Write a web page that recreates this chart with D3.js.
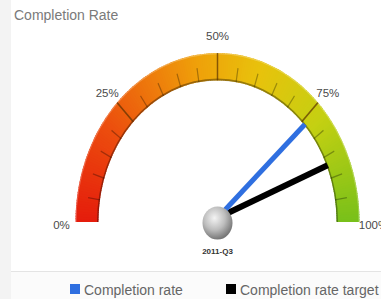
<!DOCTYPE html>
<html>
<head>
<meta charset="utf-8">
<script src="https://cdn.jsdelivr.net/npm/d3@7"></script>
<style>
  body { margin: 0; background: #fff; }
  svg { display: block; font-family: "Liberation Sans", Arial, sans-serif; }
</style>
</head>
<body>
<div id="container"></div>
<script>
/* DATA */
const period = "2011-Q3";
const seriesNames = ["Completion rate", "Completion rate target"];
const seriesValues = [76, 87];
const seriesColors = ["#2f6fe0", "#000000"];
const tickLabels = [0, 25, 50, 75, 100];
const minorStep = 5;
const bandStops = [0, 20, 45, 60, 78, 100];
const bandColors = ["#e51c0c", "#ec4e0e", "#efa00a", "#e8c20c", "#c4d012", "#78c01a"];

/* CONSTANTS */
const width = 381, height = 299;
const cx = 217.5, cy = 222, sy = 1.19;
const rOuter = 142, rInner = 119;

const svg = d3.select("#container").append("svg")
  .attr("width", width).attr("height", height);

// panel background
svg.append("rect").attr("width", width).attr("height", height).attr("fill", "#f3f3f3");
svg.append("rect").attr("x", 11).attr("width", width - 11).attr("height", 271).attr("fill", "#fff");
svg.append("rect").attr("x", 11).attr("y", 272).attr("width", width - 11).attr("height", 27).attr("fill", "#fbfbfb");
svg.append("line").attr("x1", 11).attr("x2", width).attr("y1", 271.5).attr("y2", 271.5)
  .attr("stroke", "#e4e4e4");

svg.append("text").attr("x", 14).attr("y", 20)
  .attr("font-size", 14).attr("fill", "#7a7a7a").text("Completion Rate");

// scales
const angle = d3.scaleLinear().domain([0, 100]).range([-Math.PI / 2, Math.PI / 2]);
const color = d3.scaleLinear().domain(bandStops).range(bandColors);

const g = svg.append("g").attr("transform", `translate(${cx},${cy}) scale(1,${sy})`);

// colour band, drawn in thin slices
const arc = d3.arc().innerRadius(rInner).outerRadius(rOuter);
const slices = d3.range(0, 100, 0.5);
g.selectAll("path.slice").data(slices).join("path")
  .attr("class", "slice")
  .attr("d", d => arc({ startAngle: angle(d), endAngle: angle(Math.min(100, d + 0.7)) }))
  .attr("fill", d => color(d + 0.25));

// band edges
g.append("path")
  .attr("d", d3.arc().innerRadius(rInner).outerRadius(rInner + 1.5)({ startAngle: angle(0), endAngle: angle(100) }))
  .attr("fill", "#000").attr("opacity", 0.35);
g.append("path")
  .attr("d", d3.arc().innerRadius(rOuter - 1).outerRadius(rOuter)({ startAngle: angle(0), endAngle: angle(100) }))
  .attr("fill", "#fff").attr("opacity", 0.25);

// ticks
const minorTicks = d3.range(0, 100 + minorStep, minorStep).filter(v => v % 25 !== 0);
g.selectAll("line.minor").data(minorTicks).join("line")
  .attr("class", "minor")
  .attr("x1", d => rInner * Math.sin(angle(d))).attr("y1", d => -rInner * Math.cos(angle(d)))
  .attr("x2", d => (rInner + 12) * Math.sin(angle(d))).attr("y2", d => -(rInner + 12) * Math.cos(angle(d)))
  .attr("stroke", "#000").attr("stroke-opacity", 0.3).attr("stroke-width", 1.2);
g.selectAll("line.major").data(tickLabels.slice(1, -1)).join("line")
  .attr("class", "major")
  .attr("x1", d => rInner * Math.sin(angle(d))).attr("y1", d => -rInner * Math.cos(angle(d)))
  .attr("x2", d => rOuter * Math.sin(angle(d))).attr("y2", d => -rOuter * Math.cos(angle(d)))
  .attr("stroke", "#5a3000").attr("stroke-opacity", 0.7).attr("stroke-width", 1.5);

// tick labels
svg.selectAll("text.tick").data(tickLabels).join("text")
  .attr("class", "tick")
  .attr("x", d => cx + 156 * Math.sin(angle(d)))
  .attr("y", d => cy - 156 * Math.cos(angle(d)) * sy + 4 + 3 * Math.abs(Math.sin(angle(d))))
  .attr("text-anchor", "middle")
  .attr("font-size", 11.5).attr("fill", "#4a4a4a")
  .text(d => d + "%");

// needles
const needles = seriesValues.map((v, i) => ({ v, c: seriesColors[i], w: i === 0 ? 5 : 6 }));
svg.selectAll("line.needle").data(needles.slice().reverse()).join("line")
  .attr("class", "needle")
  .attr("x1", cx).attr("y1", cy - 4)
  .attr("x2", d => cx + (rInner + 1) * Math.sin(angle(d.v)))
  .attr("y2", d => cy - (rInner + 1) * Math.cos(angle(d.v)) * sy)
  .attr("stroke", d => d.c).attr("stroke-width", d => d.w);

// pivot ball
const defs = svg.append("defs");
const rg = defs.append("radialGradient").attr("id", "ball").attr("cx", "40%").attr("cy", "35%").attr("r", "65%");
rg.append("stop").attr("offset", "0%").attr("stop-color", "#f4f4f4");
rg.append("stop").attr("offset", "55%").attr("stop-color", "#bdbdbd");
rg.append("stop").attr("offset", "100%").attr("stop-color", "#777");
svg.append("ellipse").attr("cx", cx).attr("cy", cy + 1).attr("rx", 15).attr("ry", 16.5)
  .attr("fill", "url(#ball)");

svg.append("text").attr("x", cx).attr("y", 254).attr("text-anchor", "middle")
  .attr("font-size", 8).attr("font-weight", "bold").attr("fill", "#333").text(period);

// legend
const legendX = [70, 226];
const legend = svg.selectAll("g.legend").data(seriesNames).join("g")
  .attr("class", "legend")
  .attr("transform", (d, i) => `translate(${legendX[i]},284)`);
legend.append("rect").attr("width", 10).attr("height", 10).attr("fill", (d, i) => seriesColors[i]);
legend.append("text").attr("x", 14).attr("y", 11).attr("font-size", 14).attr("fill", "#666").text(d => d);
</script>
</body>
</html>
